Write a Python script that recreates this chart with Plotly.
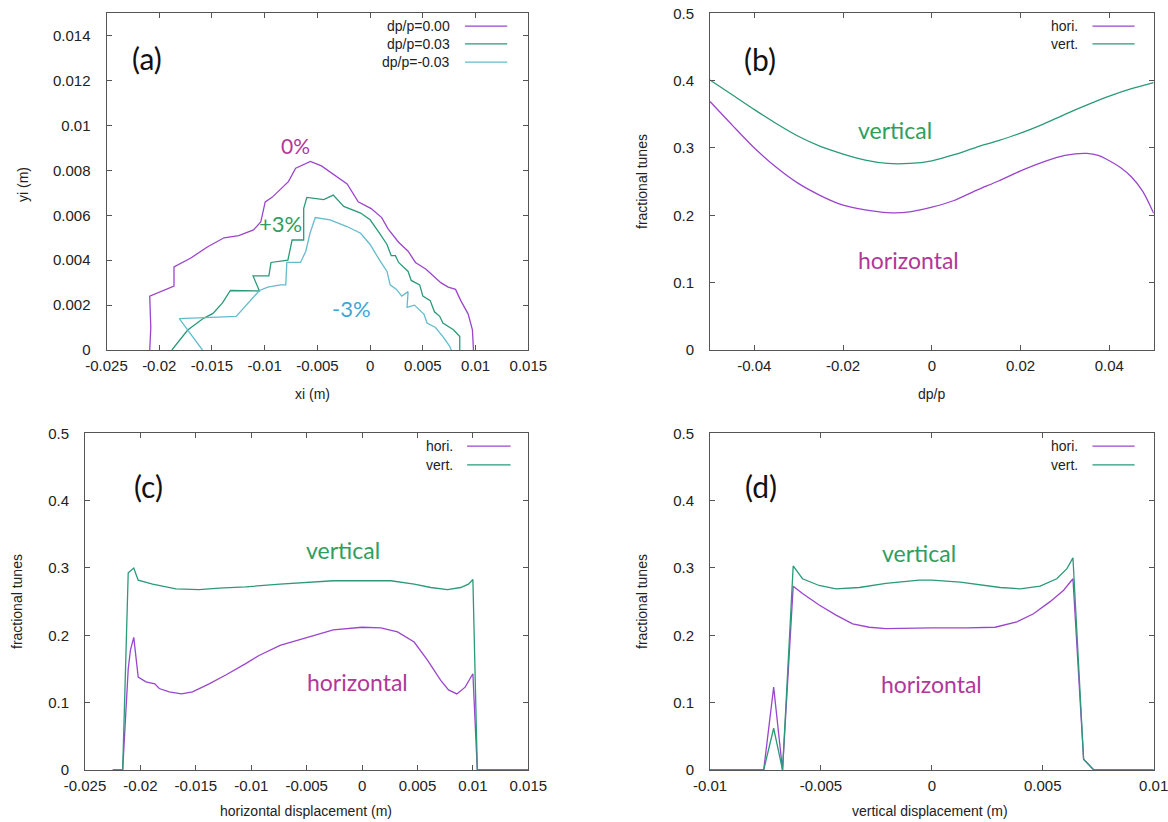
import plotly.graph_objects as go

# ---------------- data ----------------
# (a) dynamic aperture boundaries
a_x_000 = [-0.0209, -0.0208, -0.0209, -0.0186, -0.0186, -0.0170, -0.0154, -0.01385, -0.01246, -0.01106,
           -0.01037, -0.00995, -0.0093, -0.00775, -0.00706, -0.00566, -0.00462, -0.0034, -0.00218, -0.00113,
           0.0001, 0.0011, 0.0017, 0.0027, 0.0036, 0.0043, 0.0053, 0.0067, 0.0074, 0.0081,
           0.0086, 0.0093, 0.0097, 0.0098]
a_y_000 = [0.0, 0.0010, 0.0024, 0.00285, 0.0037, 0.0041, 0.0046, 0.0050, 0.0051, 0.00535,
           0.0057, 0.0066, 0.0068, 0.0075, 0.0081, 0.0084, 0.0082, 0.0078, 0.0074, 0.0066,
           0.0063, 0.0059, 0.0054, 0.0048, 0.0044, 0.0039, 0.0036, 0.0030, 0.0028, 0.0027,
           0.0022, 0.0016, 0.0009, 0.0]

a_x_p03 = [-0.0188, -0.0173, -0.0158, -0.0149, -0.0140, -0.01325, -0.0105, -0.0111, -0.0096, -0.0094,
           -0.0078, -0.0074, -0.0063, -0.0063, -0.0060, -0.0044, -0.0035, -0.0025, -0.0009, 0.0,
           0.0009, 0.0016, 0.0020, 0.0024, 0.0027, 0.0036, 0.0039, 0.0047, 0.0050, 0.0057,
           0.0061, 0.0066, 0.0069, 0.0079, 0.0083, 0.0085, 0.0085]
a_y_p03 = [0.0, 0.00089, 0.00141, 0.00163, 0.0021, 0.00265, 0.00263, 0.0033, 0.0033, 0.0039,
           0.0040, 0.0049, 0.0049, 0.0063, 0.0068, 0.0067, 0.0069, 0.0064, 0.0061, 0.0058,
           0.0052, 0.0047, 0.0042, 0.0042, 0.0039, 0.0035, 0.0031, 0.0029, 0.0024, 0.0022,
           0.0017, 0.0015, 0.0012, 0.0009, 0.0007, 0.0006, 0.0]

a_x_m03 = [-0.0159, -0.0170, -0.0181, -0.0127, -0.0105, -0.0097, -0.0085, -0.0080, -0.0079, -0.0066,
           -0.0061, -0.0057, -0.0052, -0.0038, -0.0022, -0.0009, 0.0, 0.0009, 0.0016, 0.0019,
           0.0025, 0.0030, 0.0036, 0.0035, 0.0042, 0.0051, 0.0054, 0.0062, 0.0069, 0.0075, 0.0077]
a_y_m03 = [0.0, 0.0007, 0.0014, 0.0015, 0.00265, 0.0028, 0.0029, 0.0029, 0.0039, 0.0039,
           0.0044, 0.0052, 0.0059, 0.0058, 0.0055, 0.0052, 0.0047, 0.0040, 0.0035, 0.0029,
           0.0027, 0.0024, 0.0026, 0.0019, 0.0020, 0.0016, 0.0012, 0.0010, 0.0006, 0.0002, 0.0]

a_labels = ["dp/p=0.00", "dp/p=0.03", "dp/p=-0.03"]

# (b) tunes vs momentum deviation
b_dpp_vert = [-0.05, -0.045, -0.04, -0.035, -0.03, -0.025, -0.02, -0.015, -0.01, -0.005, 0.0,
              0.005, 0.01, 0.015, 0.02, 0.025, 0.03, 0.035, 0.04, 0.045, 0.05]
b_vert = [0.401, 0.379, 0.357, 0.336, 0.317, 0.302, 0.291, 0.282, 0.277, 0.277, 0.281,
          0.290, 0.301, 0.311, 0.322, 0.335, 0.350, 0.364, 0.377, 0.388, 0.397]
b_dpp_hori = [-0.05, -0.045, -0.04, -0.035, -0.03, -0.025, -0.02, -0.015, -0.01, -0.005, 0.0,
              0.005, 0.01, 0.015, 0.02, 0.025, 0.03, 0.035, 0.0375, 0.04, 0.0425, 0.045, 0.0475, 0.05]
b_hori = [0.369, 0.334, 0.300, 0.271, 0.247, 0.229, 0.215, 0.208, 0.204, 0.205, 0.212,
          0.222, 0.237, 0.251, 0.266, 0.279, 0.289, 0.292, 0.289, 0.281, 0.271, 0.257, 0.236, 0.203]

# (c) tunes vs horizontal displacement
c_x_hori = [-0.0225, -0.0216, -0.0211, -0.0209, -0.0206, -0.0202, -0.0195, -0.0187, -0.0183, -0.0174,
            -0.0163, -0.0153, -0.0138, -0.0123, -0.0105, -0.0093, -0.0074, -0.005, -0.0026, 0.0,
            0.0017, 0.0032, 0.0047, 0.0059, 0.0071, 0.0078, 0.00855, 0.0093, 0.0100, 0.0104, 0.0150]
c_hori = [0.0, 0.0, 0.150, 0.178, 0.197, 0.138, 0.131, 0.128, 0.121, 0.116,
          0.113, 0.116, 0.128, 0.141, 0.158, 0.170, 0.185, 0.197, 0.208, 0.212,
          0.211, 0.205, 0.190, 0.163, 0.133, 0.119, 0.113, 0.123, 0.143, 0.0, 0.0]
c_x_vert = [-0.0225, -0.0216, -0.0211, -0.0206, -0.0202, -0.0189, -0.0168, -0.0147, -0.0129, -0.0105,
            -0.0074, -0.005, -0.0026, 0.0, 0.0026, 0.0047, 0.0062, 0.0077, 0.0089, 0.0096,
            0.0100, 0.0104, 0.0150]
c_vert = [0.0, 0.0, 0.293, 0.300, 0.282, 0.276, 0.269, 0.268, 0.270, 0.272,
          0.276, 0.279, 0.281, 0.281, 0.281, 0.276, 0.271, 0.268, 0.271, 0.276,
          0.283, 0.0, 0.0]

# (d) tunes vs vertical displacement
d_y_hori = [-0.0100, -0.00758, -0.00713, -0.00673, -0.00625, -0.00583, -0.00508, -0.00432, -0.00357, -0.00282,
            -0.00207, -0.00057, 0.0, 0.00158, 0.00285, 0.00383, 0.00458, 0.00533, 0.00594, 0.00636,
            0.00684, 0.00730, 0.0100]
d_hori = [0.0, 0.0, 0.123, 0.0, 0.273, 0.262, 0.245, 0.230, 0.217, 0.212,
          0.210, 0.211, 0.211, 0.211, 0.212, 0.220, 0.232, 0.250, 0.267, 0.284,
          0.016, 0.0, 0.0]
d_y_vert = [-0.0100, -0.00758, -0.00713, -0.00673, -0.00625, -0.00583, -0.00508, -0.00432, -0.00327, -0.00207,
            -0.00057, 0.0, 0.00128, 0.00233, 0.00308, 0.00398, 0.00488, 0.00563, 0.00609, 0.00636,
            0.00684, 0.00730, 0.0100]
d_vert = [0.0, 0.0, 0.062, 0.0, 0.303, 0.284, 0.274, 0.269, 0.271, 0.277,
          0.282, 0.282, 0.279, 0.274, 0.271, 0.269, 0.273, 0.284, 0.299, 0.315,
          0.016, 0.0, 0.0]

tune_labels = ["hori.", "vert."]

# tick values / labels
a_xticks = [-0.025, -0.02, -0.015, -0.01, -0.005, 0, 0.005, 0.01, 0.015]
a_xtext = ["-0.025", "-0.02", "-0.015", "-0.01", "-0.005", "0", "0.005", "0.01", "0.015"]
a_yticks = [0, 0.002, 0.004, 0.006, 0.008, 0.01, 0.012, 0.014]
a_ytext = ["0", "0.002", "0.004", "0.006", "0.008", "0.01", "0.012", "0.014"]
b_xticks = [-0.04, -0.02, 0, 0.02, 0.04]
b_xtext = ["-0.04", "-0.02", "0", "0.02", "0.04"]
tune_yticks = [0, 0.1, 0.2, 0.3, 0.4, 0.5]
tune_ytext = ["0", "0.1", "0.2", "0.3", "0.4", "0.5"]
d_xticks = [-0.01, -0.005, 0, 0.005, 0.01]
d_xtext = ["-0.01", "-0.005", "0", "0.005", "0.01"]

# ---------------- style ----------------
W, H = 1168, 822
PURPLE = "#9b45cc"
GREEN = "#2a9a78"
CYAN = "#62bccc"
TXT_MAG = "#b2379a"
TXT_GRN = "#2f9e5c"
TXT_BLU = "#3ba7d9"
FRAME = "#555555"
TEXT = "#222222"
TICKFONT = dict(family="Liberation Sans, Arial, sans-serif", size=15, color=TEXT)
TITLEFONT = dict(family="Liberation Sans, Arial, sans-serif", size=14, color=TEXT)
LBLFONT = "Lato, Open Sans, sans-serif"


def dx(l, r):
    return [l / W, r / W]


def dy(t, b):
    return [1 - b / H, 1 - t / H]


fig = go.Figure()


def add(xs, ys, color, xa, ya):
    fig.add_trace(go.Scatter(x=xs, y=ys, mode="lines", line=dict(color=color, width=1.3),
                             xaxis=xa, yaxis=ya, showlegend=False, hoverinfo="x+y"))


add(a_x_000, a_y_000, PURPLE, "x", "y")
add(a_x_p03, a_y_p03, GREEN, "x", "y")
add(a_x_m03, a_y_m03, CYAN, "x", "y")
fig.add_trace(go.Scatter(x=b_dpp_hori, y=b_hori, mode="lines", line=dict(color=PURPLE, width=1.3, shape="spline", smoothing=0.8),
                         xaxis="x2", yaxis="y2", showlegend=False))
fig.add_trace(go.Scatter(x=b_dpp_vert, y=b_vert, mode="lines", line=dict(color=GREEN, width=1.3, shape="spline", smoothing=0.8),
                         xaxis="x2", yaxis="y2", showlegend=False))
add(c_x_hori, c_hori, PURPLE, "x3", "y3")
add(c_x_vert, c_vert, GREEN, "x3", "y3")
add(d_y_hori, d_hori, PURPLE, "x4", "y4")
add(d_y_vert, d_vert, GREEN, "x4", "y4")


def axis(domain, rng, tv, tt, anchor, standoff):
    return dict(domain=domain, range=rng, tickvals=tv, ticktext=tt, anchor=anchor,
                showline=True, linecolor=FRAME, linewidth=1, mirror="allticks",
                ticks="inside", ticklen=5, tickcolor=FRAME, tickwidth=1,
                showgrid=False, zeroline=False, tickfont=TICKFONT, automargin=False,
                ticklabelstandoff=standoff, ticklabeloverflow="allow")


top = dy(13.3, 350)
bot = dy(433.3, 770)
fig.update_layout(
    width=W, height=H, margin=dict(l=0, r=0, t=0, b=0),
    paper_bgcolor="white", plot_bgcolor="white",
    xaxis=axis(dx(106.5, 528.3), [-0.025, 0.015], a_xticks, a_xtext, "y", 2),
    yaxis=axis(top, [0, 0.015], a_yticks, a_ytext, "x", 12),
    xaxis2=axis(dx(710, 1153.7), [-0.05, 0.05], b_xticks, b_xtext, "y2", 2),
    yaxis2=axis(top, [0, 0.5], tune_yticks, tune_ytext, "x2", 12),
    xaxis3=axis(dx(85, 528.3), [-0.025, 0.015], a_xticks, a_xtext, "y3", 2),
    yaxis3=axis(bot, [0, 0.5], tune_yticks, tune_ytext, "x3", 12),
    xaxis4=axis(dx(710, 1153.7), [-0.01, 0.01], d_xticks, d_xtext, "y4", 2),
    yaxis4=axis(bot, [0, 0.5], tune_yticks, tune_ytext, "x4", 12),
)

ann = []


def title(text, px, py, rot=0):
    ann.append(dict(text=text, x=px / W, y=1 - py / H, xref="paper", yref="paper",
                    showarrow=False, textangle=rot, font=TITLEFONT, xanchor="center", yanchor="middle"))


title("yi (m)", 23, 185, -90)
title("xi (m)", 312, 394)
title("fractional tunes", 642, 182, -90)
title("dp/p", 931, 394)
title("fractional tunes", 17, 602, -90)
title("horizontal displacement (m)", 306, 811)
title("fractional tunes", 642, 602, -90)
title("vertical displacement (m)", 930, 811)


def lab(text, x, y, xa, ya, color, size):
    ann.append(dict(text=text, x=x, y=y, xref=xa, yref=ya, showarrow=False,
                    font=dict(family=LBLFONT, size=size, color=color), xanchor="center", yanchor="middle"))


lab("(a)", -0.0212, 0.0130, "x", "y", "#111111", 30)
lab("0%", -0.0071, 0.0091, "x", "y", TXT_MAG, 21)
lab("+3%", -0.0085, 0.00564, "x", "y", TXT_GRN, 22)
lab("-3%", -0.0018, 0.00186, "x", "y", TXT_BLU, 22)
lab("(b)", -0.0387, 0.432, "x2", "y2", "#111111", 30)
lab("vertical", -0.0083, 0.326, "x2", "y2", TXT_GRN, 23)
lab("horizontal", -0.0052, 0.1335, "x2", "y2", TXT_MAG, 23)
lab("(c)", -0.0193, 0.422, "x3", "y3", "#111111", 30)
lab("vertical", -0.0017, 0.327, "x3", "y3", TXT_GRN, 23)
lab("horizontal", -0.0004, 0.131, "x3", "y3", TXT_MAG, 23)
lab("(d)", -0.0077, 0.422, "x4", "y4", "#111111", 30)
lab("vertical", -0.0006, 0.322, "x4", "y4", TXT_GRN, 23)
lab("horizontal", 0.0000, 0.128, "x4", "y4", TXT_MAG, 23)

shapes = []


def legend(labels, colors, xa, ya, tx, l0, l1, ys):
    for t, c, yy in zip(labels, colors, ys):
        ann.append(dict(text=t, x=tx, y=yy, xref=xa + " domain", yref=ya + " domain", showarrow=False,
                        xanchor="right", yanchor="middle",
                        font=dict(family="Liberation Sans, Arial, sans-serif", size=14, color=TEXT)))
        shapes.append(dict(type="line", xref=xa + " domain", yref=ya + " domain", x0=l0, x1=l1, y0=yy, y1=yy,
                           line=dict(color=c, width=1.3)))


legend(a_labels, [PURPLE, GREEN, CYAN], "x", "y", 0.820, 0.850, 0.950, [0.962, 0.909, 0.855])
legend(tune_labels, [PURPLE, GREEN], "x2", "y2", 0.835, 0.862, 0.957, [0.962, 0.909])
legend(tune_labels, [PURPLE, GREEN], "x3", "y3", 0.835, 0.862, 0.960, [0.962, 0.906])
legend(tune_labels, [PURPLE, GREEN], "x4", "y4", 0.835, 0.862, 0.957, [0.962, 0.906])

fig.update_layout(annotations=ann, shapes=shapes)
fig.write_html("out.html", config={"displayModeBar": False},
               post_script="document.body.style.margin='0px';document.body.style.overflow='hidden';")
